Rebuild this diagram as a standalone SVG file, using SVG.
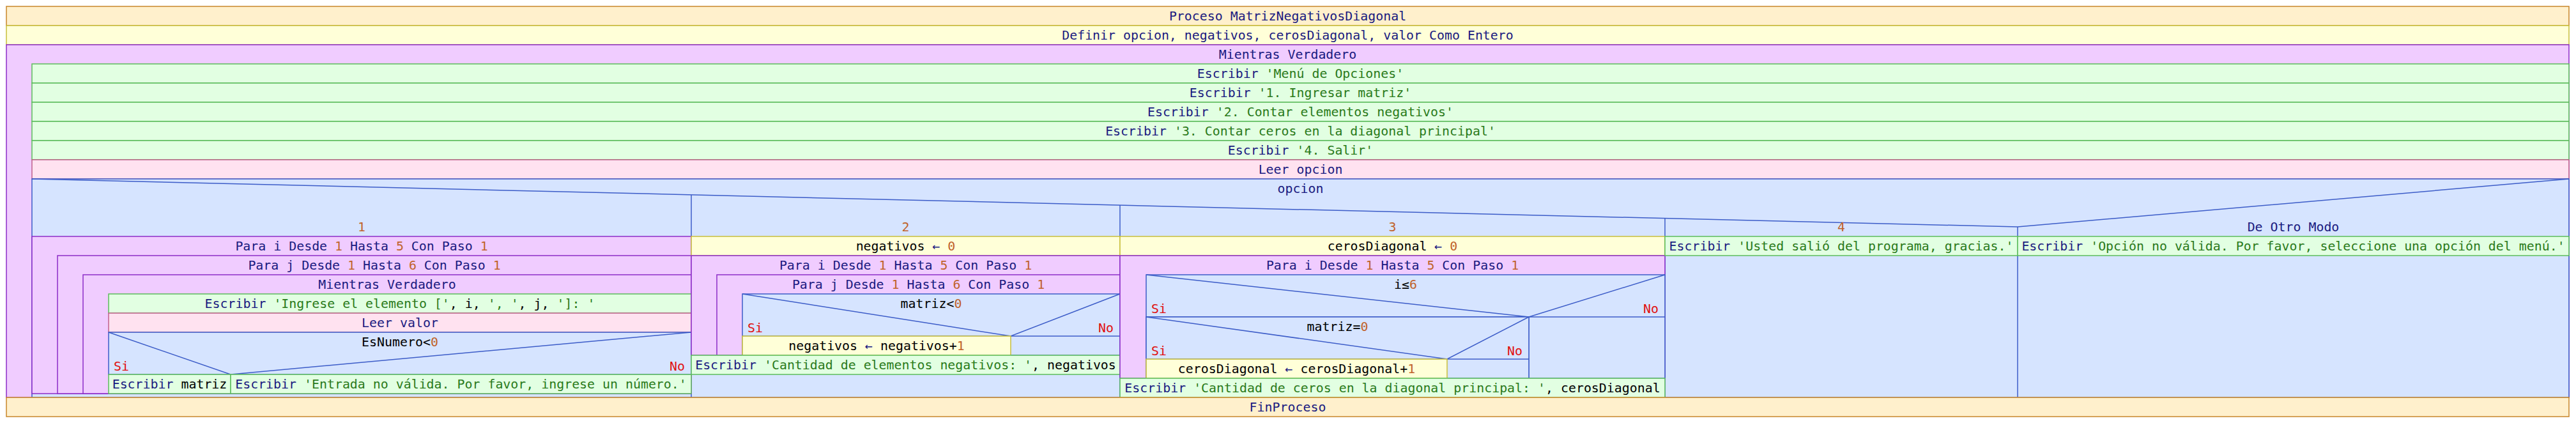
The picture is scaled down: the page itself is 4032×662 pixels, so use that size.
<svg xmlns="http://www.w3.org/2000/svg" width="4032" height="662" viewBox="0 0 4032 662">
<style>
rect{stroke-width:1.5}
.proc{fill:#FFF0CC;stroke:#C8862A}
.def{fill:#FFFFD8;stroke:#C8BE3C}
.loop{fill:#F0CCFF;stroke:#8C2CC8}
.out{fill:#E2FFE2;stroke:#5CBC5C}
.in{fill:#FFE2F0;stroke:#C0608A}
.sel{fill:#D6E4FF;stroke:#3C5CC8}
.ln{stroke:#3C5CC8;stroke-width:1.5;fill:none}
text{font-family:"DejaVu Sans Mono","Liberation Mono",monospace;font-size:19.9px;fill:#1A1A80;text-anchor:middle}
.s{fill:#2A7A1A}
.n{fill:#C0622A}
.v{fill:#000000}
.r{fill:#E01010}
.l{text-anchor:start}
.e{text-anchor:end}
</style>
<rect width="4032" height="662" fill="#FFFFFF"/>
<g id="proceso"><rect class="proc" x="10" y="10" width="4011" height="30"/><text x="2015.5" y="31.5">Proceso MatrizNegativosDiagonal</text></g>
<g id="definir"><rect class="def" x="10" y="40" width="4011" height="30"/><text x="2015.5" y="61.5">Definir opcion, negativos, cerosDiagonal, valor Como Entero</text></g>
<g id="mientras-main"><rect class="loop" x="10" y="70" width="4011" height="552"/><text x="2015.5" y="91.5">Mientras Verdadero</text></g>
<g id="menu1"><rect class="out" x="50" y="100" width="3971" height="30"/><text x="2035.5" y="121.5">Escribir <tspan class="s">'Menú de Opciones'</tspan></text></g>
<g id="menu2"><rect class="out" x="50" y="130" width="3971" height="30"/><text x="2035.5" y="151.5">Escribir <tspan class="s">'1. Ingresar matriz'</tspan></text></g>
<g id="menu3"><rect class="out" x="50" y="160" width="3971" height="30"/><text x="2035.5" y="181.5">Escribir <tspan class="s">'2. Contar elementos negativos'</tspan></text></g>
<g id="menu4"><rect class="out" x="50" y="190" width="3971" height="30"/><text x="2035.5" y="211.5">Escribir <tspan class="s">'3. Contar ceros en la diagonal principal'</tspan></text></g>
<g id="menu5"><rect class="out" x="50" y="220" width="3971" height="30"/><text x="2035.5" y="241.5">Escribir <tspan class="s">'4. Salir'</tspan></text></g>
<g id="leer-opcion"><rect class="in" x="50" y="250" width="3971" height="30"/><text x="2035.5" y="271.5">Leer opcion</text></g>
<g id="segun">
<rect class="sel" x="50" y="280" width="3971" height="342"/>
<polyline class="ln" points="50,280 3158,355 4021,280"/>
<line class="ln" x1="1082" y1="304.9" x2="1082" y2="622"/>
<line class="ln" x1="1753" y1="321.1" x2="1753" y2="622"/>
<line class="ln" x1="2606" y1="341.7" x2="2606" y2="622"/>
<line class="ln" x1="3158" y1="355" x2="3158" y2="622"/>
<text x="2035.5" y="301.5">opcion</text>
<text class="n" x="566" y="362">1</text>
<text class="n" x="1417.5" y="362">2</text>
<text class="n" x="2179.5" y="362">3</text>
<text class="n" x="2882" y="362">4</text>
<text x="3589.5" y="362">De Otro Modo</text>
</g>
<g id="c1-para-i"><rect class="loop" x="50" y="370" width="1032" height="246"/><text x="566" y="391.5">Para i Desde <tspan class="n">1</tspan> Hasta <tspan class="n">5</tspan> Con Paso <tspan class="n">1</tspan></text></g>
<g id="c1-para-j"><rect class="loop" x="90" y="400" width="992" height="216"/><text x="586" y="421.5">Para j Desde <tspan class="n">1</tspan> Hasta <tspan class="n">6</tspan> Con Paso <tspan class="n">1</tspan></text></g>
<g id="c1-mientras"><rect class="loop" x="130" y="430" width="952" height="186"/><text x="606" y="451.5">Mientras Verdadero</text></g>
<g id="c1-escribir"><rect class="out" x="170" y="460" width="912" height="30"/><text x="626" y="481.5">Escribir <tspan class="s">'Ingrese el elemento ['</tspan><tspan class="v">, i, </tspan><tspan class="s">', '</tspan><tspan class="v">, j, </tspan><tspan class="s">']: '</tspan></text></g>
<g id="c1-leer"><rect class="in" x="170" y="490" width="912" height="30"/><text x="626" y="511.5">Leer valor</text></g>
<g id="c1-si">
<rect class="sel" x="170" y="520" width="912" height="66"/>
<polyline class="ln" points="170,520 361,586 1082,520"/>
<text class="v" x="626" y="541.5">EsNumero&lt;<tspan class="n">0</tspan></text>
<text class="r l" x="178" y="580">Si</text>
<text class="r e" x="1072" y="580">No</text>
</g>
<g id="c1-escribir-matriz"><rect class="out" x="170" y="586" width="191" height="30"/><text x="265.5" y="607.5">Escribir <tspan class="v">matriz</tspan></text></g>
<g id="c1-escribir-error"><rect class="out" x="361" y="586" width="721" height="30"/><text x="721.5" y="607.5">Escribir <tspan class="s">'Entrada no válida. Por favor, ingrese un número.'</tspan></text></g>
<g id="c2-asig"><rect class="def" x="1082" y="370" width="671" height="30"/><text x="1417.5" y="391.5"><tspan class="v">negativos</tspan> ← <tspan class="n">0</tspan></text></g>
<g id="c2-para-i"><rect class="loop" x="1082" y="400" width="671" height="156"/><text x="1417.5" y="421.5">Para i Desde <tspan class="n">1</tspan> Hasta <tspan class="n">5</tspan> Con Paso <tspan class="n">1</tspan></text></g>
<g id="c2-para-j"><rect class="loop" x="1122" y="430" width="631" height="126"/><text x="1437.5" y="451.5">Para j Desde <tspan class="n">1</tspan> Hasta <tspan class="n">6</tspan> Con Paso <tspan class="n">1</tspan></text></g>
<g id="c2-si">
<rect class="sel" x="1162" y="460" width="591" height="96"/>
<polyline class="ln" points="1162,460 1582,526 1753,460"/>
<line class="ln" x1="1162" y1="526" x2="1753" y2="526"/>
<text class="v" x="1457.5" y="481.5">matriz&lt;<tspan class="n">0</tspan></text>
<text class="r l" x="1170" y="520">Si</text>
<text class="r e" x="1743" y="520">No</text>
</g>
<g id="c2-incr"><rect class="def" x="1162" y="526" width="420" height="30"/><text x="1372" y="547.5"><tspan class="v">negativos</tspan> ← <tspan class="v">negativos+</tspan><tspan class="n">1</tspan></text></g>
<g id="c2-escribir"><rect class="out" x="1082" y="556" width="671" height="30"/><text x="1417.5" y="577.5">Escribir <tspan class="s">'Cantidad de elementos negativos: '</tspan><tspan class="v">, negativos</tspan></text></g>
<g id="c3-asig"><rect class="def" x="1753" y="370" width="853" height="30"/><text x="2179.5" y="391.5"><tspan class="v">cerosDiagonal</tspan> ← <tspan class="n">0</tspan></text></g>
<g id="c3-para-i"><rect class="loop" x="1753" y="400" width="853" height="192"/><text x="2179.5" y="421.5">Para i Desde <tspan class="n">1</tspan> Hasta <tspan class="n">5</tspan> Con Paso <tspan class="n">1</tspan></text></g>
<g id="c3-si-i">
<rect class="sel" x="1794" y="430" width="812" height="162"/>
<polyline class="ln" points="1794,430 2393,496 2606,430"/>
<line class="ln" x1="1794" y1="496" x2="2606" y2="496"/>
<line class="ln" x1="2393" y1="496" x2="2393" y2="592"/>
<text class="v" x="2200" y="451.5">i≤<tspan class="n">6</tspan></text>
<text class="r l" x="1802" y="490">Si</text>
<text class="r e" x="2596" y="490">No</text>
</g>
<g id="c3-si-matriz">
<rect class="sel" x="1794" y="496" width="599" height="96"/>
<polyline class="ln" points="1794,496 2265,562 2393,496"/>
<line class="ln" x1="1794" y1="562" x2="2393" y2="562"/>
<text class="v" x="2093.5" y="517.5">matriz=<tspan class="n">0</tspan></text>
<text class="r l" x="1802" y="556">Si</text>
<text class="r e" x="2383" y="556">No</text>
</g>
<g id="c3-incr"><rect class="def" x="1794" y="562" width="471" height="30"/><text x="2029.5" y="583.5"><tspan class="v">cerosDiagonal</tspan> ← <tspan class="v">cerosDiagonal+</tspan><tspan class="n">1</tspan></text></g>
<g id="c3-escribir"><rect class="out" x="1753" y="592" width="853" height="30"/><text x="2179.5" y="613.5">Escribir <tspan class="s">'Cantidad de ceros en la diagonal principal: '</tspan><tspan class="v">, cerosDiagonal</tspan></text></g>
<g id="c4-escribir"><rect class="out" x="2606" y="370" width="552" height="30"/><text x="2882" y="391.5">Escribir <tspan class="s">'Usted salió del programa, gracias.'</tspan></text></g>
<g id="c5-escribir"><rect class="out" x="3158" y="370" width="863" height="30"/><text x="3589.5" y="391.5">Escribir <tspan class="s">'Opción no válida. Por favor, seleccione una opción del menú.'</tspan></text></g>
<g id="finproceso"><rect class="proc" x="10" y="622" width="4011" height="30"/><text x="2015.5" y="643.5">FinProceso</text></g>
<g id="connectors"></g>
</svg>
